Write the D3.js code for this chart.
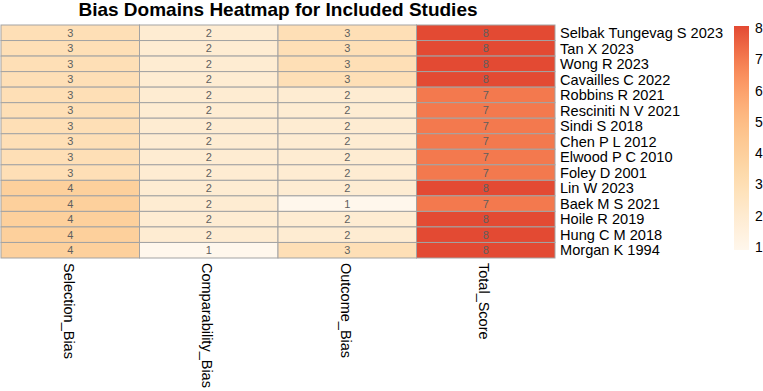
<!DOCTYPE html>
<html>
<head>
<meta charset="utf-8">
<script src="https://cdn.jsdelivr.net/npm/d3@7"></script>
<style>
  body { margin: 0; background: #fff; }
  text { font-family: "Liberation Sans", Arial, sans-serif; }
</style>
</head>
<body>
<svg id="chart" width="763" height="391"></svg>
<script>
const studies = ['Selbak Tungevag S 2023','Tan X 2023','Wong R 2023','Cavailles C 2022','Robbins R 2021',
  'Resciniti N V 2021','Sindi S 2018','Chen P L 2012','Elwood P C 2010','Foley D 2001',
  'Lin W 2023','Baek M S 2021','Hoile R 2019','Hung C M 2018','Morgan K 1994']
const domains = ['Selection_Bias','Comparability_Bias','Outcome_Bias','Total_Score']

const selectionBias     = [3,3,3,3,3,3,3,3,3,3,4,4,4,4,4]
const comparabilityBias = [2,2,2,2,2,2,2,2,2,2,2,2,2,2,1]
const outcomeBias       = [3,3,3,3,2,2,2,2,2,2,2,1,2,2,3]
const totalScore        = [8,8,8,8,7,7,7,7,7,7,8,7,8,8,8]

const legendTicks = [1,2,3,4,5,6,7,8]
const paletteStops = ['#FFF7EC','#FEE8C8','#FDD49E','#FDBB84','#FC8D59','#E34A33']

const columns = [selectionBias, comparabilityBias, outcomeBias, totalScore]
const cells = []
columns.forEach((col, j) => {
  col.forEach((v, i) => cells.push({study: studies[i], domain: domains[j], value: v}))
})

const svg = d3.select('#chart')
const margin = {left: 1, top: 25, right: 208, bottom: 133}
const W = 763, H = 391

const x = d3.scaleBand().domain(domains).range([margin.left, W - margin.right])
const y = d3.scaleBand().domain(studies).range([margin.top, H - margin.bottom])

const color = d3.scaleSequential(d3.interpolateRgbBasis(paletteStops)).domain([1, 8])

svg.append('text')
  .attr('x', 278).attr('y', 15.5)
  .attr('text-anchor', 'middle')
  .attr('font-size', 19).attr('font-weight', 'bold')
  .text('Bias Domains Heatmap for Included Studies')

let g = svg.append('g')

g.selectAll('rect')
  .data(cells)
  .join('rect')
  .attr('x', d => x(d.domain))
  .attr('y', d => y(d.study))
  .attr('width', x.bandwidth())
  .attr('height', y.bandwidth())
  .attr('fill', d => color(d.value))
  .attr('stroke', '#a3a3a3')
  .attr('stroke-width', 1)

g.selectAll('text.cell')
  .data(cells)
  .join('text')
  .attr('class', 'cell')
  .attr('x', d => x(d.domain) + x.bandwidth() / 2)
  .attr('y', d => y(d.study) + y.bandwidth() / 2)
  .attr('dy', '0.36em')
  .attr('text-anchor', 'middle')
  .attr('font-size', 11)
  .attr('fill', '#5f5f5f')
  .text(d => d.value)

// row labels
svg.append('g').selectAll('text')
  .data(studies)
  .join('text')
  .attr('x', W - margin.right + 5)
  .attr('y', d => y(d) + y.bandwidth() / 2)
  .attr('dy', '0.36em')
  .attr('font-size', 14.6)
  .attr('fill', '#000')
  .text(d => d)

// column labels, rotated
svg.append('g').selectAll('text')
  .data(domains)
  .join('text')
  .attr('transform', d => `translate(${x(d) + x.bandwidth() / 2},${H - margin.bottom + 5}) rotate(90)`)
  .attr('dy', '0.45em')
  .attr('font-size', 14.5)
  .attr('fill', '#000')
  .text(d => d)

// legend
const legTop = 26, legBottom = 250
const ly = d3.scaleLinear().domain([1, 8]).range([legBottom - 3, legTop + 2])

const defs = svg.append('defs')
const grad = defs.append('linearGradient')
  .attr('id', 'leg-grad')
  .attr('x1', 0).attr('y1', 1).attr('x2', 0).attr('y2', 0)
d3.range(0, 1.0001, 0.05).forEach(t => {
  grad.append('stop').attr('offset', t).attr('stop-color', color(1 + 7 * t))
})

svg.append('rect')
  .attr('x', 734).attr('y', legTop)
  .attr('width', 15).attr('height', legBottom - legTop)
  .attr('fill', 'url(#leg-grad)')

svg.append('g').selectAll('text')
  .data(legendTicks)
  .join('text')
  .attr('x', 755)
  .attr('y', d => ly(d))
  .attr('dy', '0.36em')
  .attr('font-size', 14)
  .attr('fill', '#000')
  .text(d => d)
</script>
</body>
</html>
